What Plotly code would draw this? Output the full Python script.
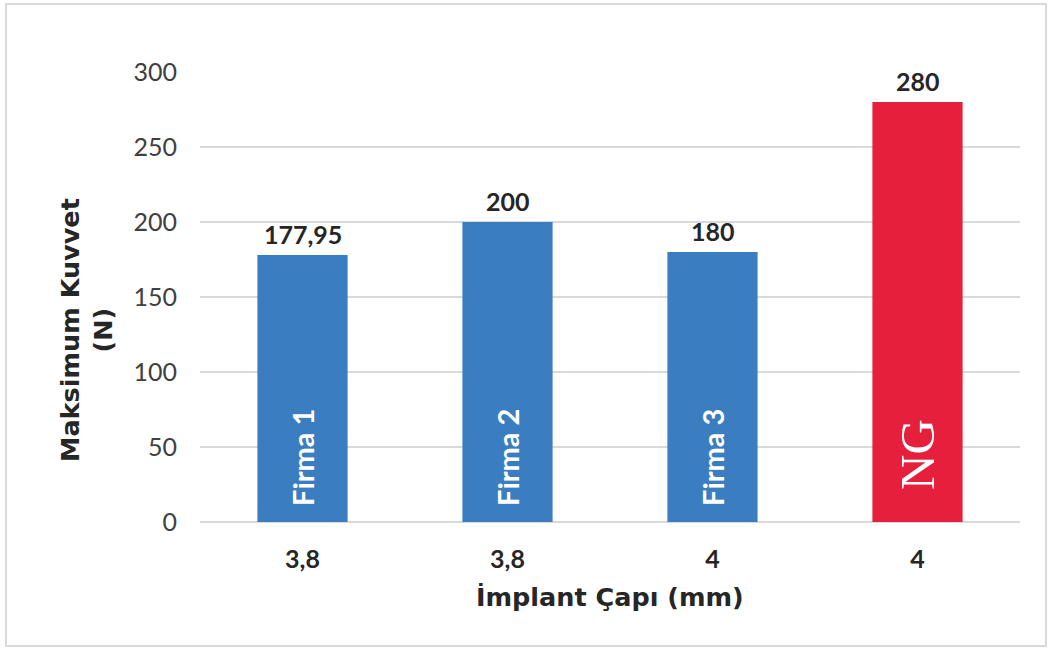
import plotly.graph_objects as go

firms = ["Firma 1", "Firma 2", "Firma 3", "NG"]
diameters = ["3,8", "3,8", "4", "4"]
max_force = [177.95, 200, 180, 280]
bar_colors = ["#3A7DC1", "#3A7DC1", "#3A7DC1", "#E6203C"]
y_ticks = [0, 50, 100, 150, 200, 250, 300]

NUM_FONT = "Lato"
TITLE_FONT = "DejaVu Sans"
value_text = [f"{v:g}".replace(".", ",") for v in max_force]

fig = go.Figure()
fig.add_trace(go.Bar(
    x=firms, y=max_force,
    marker=dict(color=bar_colors, line=dict(width=0)),
    hoverinfo="skip",
))

# value labels above bars
for f, v, t in zip(firms, max_force, value_text):
    fig.add_annotation(
        x=f, y=v, xref="x", yref="y", text=t, showarrow=False,
        yanchor="bottom", xanchor="center", yshift=4,
        font=dict(family=NUM_FONT, size=25, color="#262626", weight="bold"),
    )

# labels inside bars
for f in firms:
    is_ng = f == "NG"
    fig.add_annotation(
        x=f, y=0, xref="x", yref="y", text=f, showarrow=False,
        textangle=-90, yanchor="bottom", xanchor="center",
        yshift=30 if is_ng else 14,
        font=dict(family="Liberation Serif" if is_ng else NUM_FONT,
                  size=49 if is_ng else 29, color="white",
                  weight="normal" if is_ng else "bold"),
    )

fig.add_annotation(
    xref="paper", yref="paper", x=0, y=(522 - 330) / 450, xshift=-113,
    text="Maksimum Kuvvet<br>(N)", showarrow=False, textangle=-90,
    xanchor="center", yanchor="middle",
    font=dict(family=TITLE_FONT, size=25.5, color="#262626", weight="bold"),
)
fig.add_annotation(
    xref="paper", yref="paper", x=0.5, y=(522 - 597) / 450,
    text="İmplant Çapı (mm)", showarrow=False,
    xanchor="center", yanchor="middle",
    font=dict(family=TITLE_FONT, size=25.5, color="#262626", weight="bold"),
)

fig.add_shape(
    type="rect", xref="paper", yref="paper",
    x0=(6 - 200) / 820, x1=(1046 - 200) / 820,
    y0=(522 - 646) / 450, y1=(522 - 4) / 450,
    line=dict(color="#D9D9D9", width=2), layer="below",
)

fig.update_layout(
    width=1051, height=650,
    margin=dict(l=200, r=31, t=72, b=128),
    plot_bgcolor="white", paper_bgcolor="white",
    showlegend=False, bargap=0.56,
    font=dict(family=NUM_FONT, color="#404040"),
)
fig.update_xaxes(
    tickmode="array", tickvals=firms, ticktext=diameters,
    tickfont=dict(family=NUM_FONT, size=25, color="#262626", weight="bold"),
    showgrid=False, showline=False, zeroline=False,
    ticks="", ticklabelstandoff=20,
)
fig.update_yaxes(
    range=[0, 300], tickvals=y_ticks,
    tickfont=dict(family=NUM_FONT, size=25, color="#404040"),
    showgrid=True, gridcolor="#D9D9D9", gridwidth=1.5,
    zeroline=True, zerolinecolor="#D9D9D9", zerolinewidth=1.5,
    showline=False, ticks="", ticklabelstandoff=22,
)

fig.write_html("out.html", config={"displayModeBar": False},
               post_script="document.body.style.margin='0';")
